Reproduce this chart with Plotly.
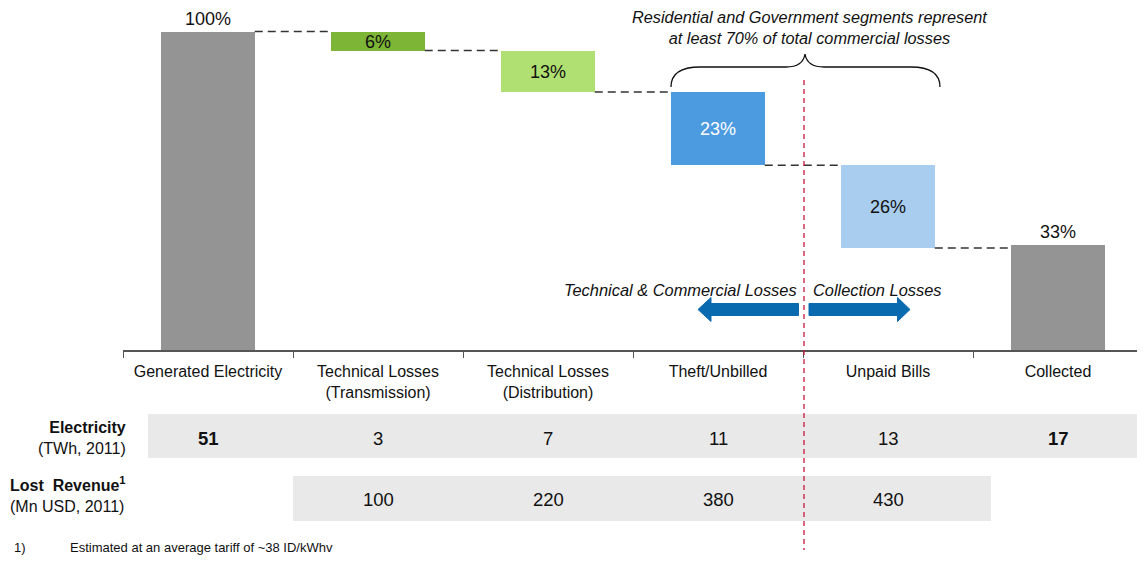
import plotly.graph_objects as go

# ---------------- data ----------------
categories = ["Generated Electricity", "Technical Losses<br>(Transmission)",
              "Technical Losses<br>(Distribution)", "Theft/Unbilled",
              "Unpaid Bills", "Collected"]
share_pct = [100, 6, 13, 23, 26, 33]          # bar values (%)
bar_kind = ["total", "loss", "loss", "loss", "loss", "total"]
bar_colors = ["#949494", "#7db536", "#b1e072", "#4c9be0", "#a8cdee", "#949494"]
label_colors = ["#111111", "#111111", "#111111", "#ffffff", "#111111", "#111111"]

electricity_twh = [51, 3, 7, 11, 13, 17]
lost_revenue_musd = [None, 100, 220, 380, 430, None]

note_top = ["Residential and Government segments represent",
            "at least 70% of total commercial losses"]
left_arrow_label = "Technical & Commercial Losses"
right_arrow_label = "Collection Losses"
footnote = "Estimated at an average tariff of ~38 ID/kWhv"

# ---------------- geometry helpers ----------------
# the page places the figure 8px in from the top-left corner
OFF = 8
W, H = 1145 - OFF, 564 - OFF
AXIS_REF = 350                 # axis y in page pixels
ML = 123 - OFF
PW = 1020
MR = W - ML - PW
MT = 0
PH = AXIS_REF - OFF - MT
MB = H - MT - PH
PX_PER_PCT = 3.185
FONT = "Liberation Sans, Arial, sans-serif"


def px(xp):
    return (xp - OFF - ML) / PW


def py(yp):
    return (AXIS_REF - yp) / PH


def path_px(cmds):
    out = []
    for c in cmds:
        if isinstance(c, str):
            out.append(c)
        else:
            out.append(f"{px(c[0]):.5f},{py(c[1]):.5f}")
    return " ".join(out)


# floating bar bases
bases, lengths = [], []
level = 0
for v, k in zip(share_pct, bar_kind):
    if k == "total":
        bases.append(0)
        lengths.append(v)
        level = v
    else:
        level -= v
        bases.append(level)
        lengths.append(v)

texts = [f"{v}%" for v in share_pct]
textpos = ["outside" if k == "total" else "inside" for k in bar_kind]

fig = go.Figure()
fig.add_trace(go.Bar(
    x=categories, y=lengths, base=bases, width=0.55,
    marker=dict(color=bar_colors, line=dict(width=0)),
    text=texts, textposition=textpos, insidetextanchor="middle",
    textfont=dict(family=FONT, size=18, color=label_colors),
    outsidetextfont=dict(family=FONT, size=18, color="#111111"),
    insidetextfont=dict(family=FONT, size=18, color=label_colors),
    constraintext="none", cliponaxis=False, hoverinfo="skip",
))

shapes = []
# connectors
w = 0.55
tops = [b + l for b, l in zip(bases, lengths)]
for i in range(len(categories) - 1):
    lvl = tops[i] if bar_kind[i] == "total" else bases[i]
    shapes.append(dict(type="line", xref="x", yref="y",
                       x0=i + w / 2, x1=i + 1 - w / 2, y0=lvl, y1=lvl,
                       line=dict(color="#333333", width=1.5, dash="8px,5px")))

# table bands
shapes.append(dict(type="rect", xref="paper", yref="paper", layer="below",
                   x0=px(148), x1=px(1145), y0=py(414), y1=py(458),
                   fillcolor="#e9e9e9", line=dict(width=0)))
shapes.append(dict(type="rect", xref="paper", yref="paper", layer="below",
                   x0=px(293), x1=px(991), y0=py(476), y1=py(521),
                   fillcolor="#e9e9e9", line=dict(width=0)))

# red divider
shapes.append(dict(type="line", xref="paper", yref="paper",
                   x0=px(804), x1=px(804), y0=py(80), y1=py(550),
                   line=dict(color="#c8183c", width=1.3, dash="5px,4px")))

# arrows
arrow_col = "#0a6ab0"
left_arrow = [
    "M", (698, 309.5), "L", (711, 297.5), "L", (711, 303.5), "L", (798.5, 303.5),
    "L", (798.5, 315.5), "L", (711, 315.5), "L", (711, 321.5), "Z"]
right_arrow = [
    "M", (910, 309.5), "L", (897.5, 297.5), "L", (897.5, 303.5), "L", (809, 303.5),
    "L", (809, 315.5), "L", (897.5, 315.5), "L", (897.5, 321.5), "Z"]
for a in (left_arrow, right_arrow):
    shapes.append(dict(type="path", xref="paper", yref="paper",
                       path=path_px(a), fillcolor=arrow_col,
                       line=dict(color=arrow_col, width=1)))

# brace
brace = ["M", (671, 87), "Q", (671, 67), (700, 67), "L", (786, 67),
         "Q", (803, 67), (805, 54), "Q", (807, 67), (824, 67),
         "L", (911, 67), "Q", (940, 67), (940, 87)]
shapes.append(dict(type="path", xref="paper", yref="paper",
                   path=path_px(brace), line=dict(color="#111111", width=1.3)))

ann = []
ann.append(dict(x=px(810), y=py(27.5), xref="paper", yref="paper",
                text="<br>".join(f"<i>{t}</i>" for t in note_top),
                showarrow=False, xanchor="center", yanchor="middle", align="center",
                font=dict(family=FONT, size=16.3, color="#111111")))
ann.append(dict(x=px(799), y=py(289.5), xref="paper", yref="paper",
                text=f"<i>{left_arrow_label}</i>", showarrow=False,
                xanchor="right", yanchor="middle",
                font=dict(family=FONT, size=16.4, color="#111111")))
ann.append(dict(x=px(811), y=py(289.5), xref="paper", yref="paper",
                text=f"<i>{right_arrow_label}</i>", showarrow=False,
                xanchor="left", yanchor="middle",
                font=dict(family=FONT, size=16.4, color="#111111")))

# table values
for i, v in enumerate(electricity_twh):
    bold = i in (0, len(electricity_twh) - 1)
    ann.append(dict(x=i, y=py(438), xref="x", yref="paper",
                    text=f"<b>{v}</b>" if bold else str(v), showarrow=False,
                    xanchor="center", yanchor="middle",
                    font=dict(family=FONT, size=18.5, color="#111111")))
for i, v in enumerate(lost_revenue_musd):
    if v is None:
        continue
    ann.append(dict(x=i, y=py(499), xref="x", yref="paper", text=str(v),
                    showarrow=False, xanchor="center", yanchor="middle",
                    font=dict(family=FONT, size=18.5, color="#111111")))

# row headers
ann.append(dict(x=px(128), y=py(437.5), xref="paper", yref="paper",
                text="<b>Electricity</b><br>(TWh, 2011)", showarrow=False,
                xanchor="right", yanchor="middle", align="right",
                font=dict(family=FONT, size=16, color="#111111")))
ann.append(dict(x=px(128), y=py(494), xref="paper", yref="paper",
                text="<b>Lost  Revenue<sup>1</sup></b><br>(Mn USD, 2011)",
                showarrow=False, xanchor="right", yanchor="middle", align="left",
                font=dict(family=FONT, size=16, color="#111111")))

# footnote
ann.append(dict(x=px(12), y=py(547), xref="paper", yref="paper", text="1)",
                showarrow=False, xanchor="left", yanchor="middle",
                font=dict(family=FONT, size=13, color="#111111")))
ann.append(dict(x=px(68), y=py(547), xref="paper", yref="paper", text=footnote,
                showarrow=False, xanchor="left", yanchor="middle",
                font=dict(family=FONT, size=13, color="#111111")))

fig.update_layout(
    width=W, height=H,
    margin=dict(l=ML, r=MR, t=MT, b=MB, pad=0),
    paper_bgcolor="white", plot_bgcolor="white",
    showlegend=False, bargap=0,
    font=dict(family=FONT, color="#111111"),
    shapes=shapes, annotations=ann,
    uniformtext=dict(mode="show", minsize=18),
    xaxis=dict(type="category", range=[-0.5, 5.5], showline=True,
               linecolor="#555555", linewidth=1.5, ticks="outside",
               tickson="boundaries", ticklen=6, tickwidth=1.3,
               tickcolor="#555555", showgrid=False, zeroline=False,
               ticklabelstandoff=6,
               tickfont=dict(family=FONT, size=16, color="#111111")),
    yaxis=dict(range=[0, PH / PX_PER_PCT], visible=False, showgrid=False,
               zeroline=False, fixedrange=True),
)

fig.write_html("out.html")
